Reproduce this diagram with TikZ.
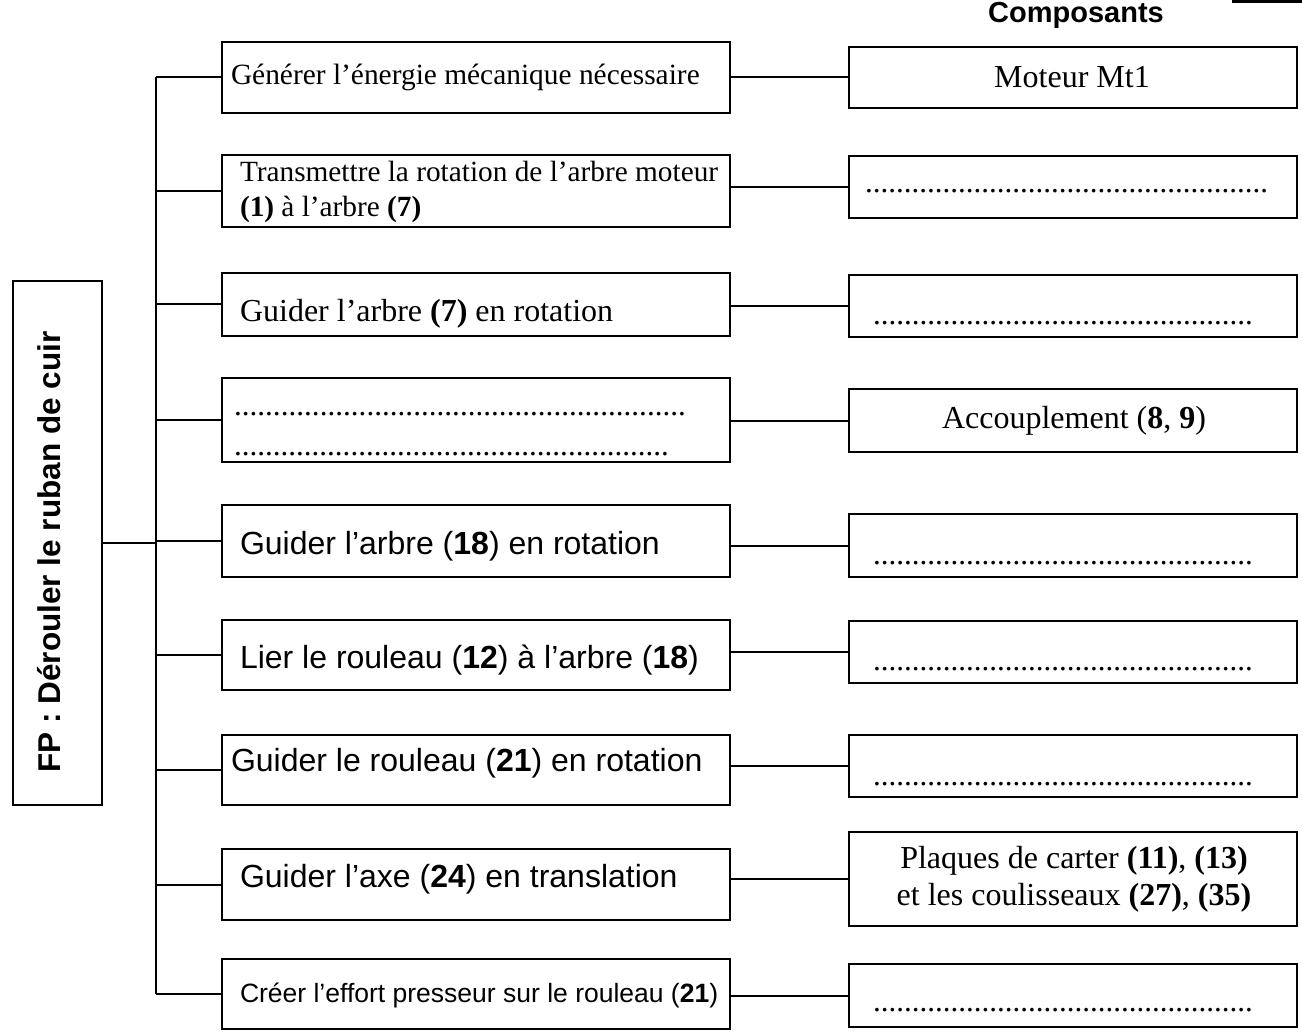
\documentclass[tikz,border=0pt]{standalone}
\usepackage{fontspec}
\setmainfont{Liberation Serif}
\setsansfont{Liberation Sans}
\newcommand\pointill[1]{\hbox to #1{\xleaders\hbox{.}\hfill}}
\begin{document}
\begin{tikzpicture}[x=1pt,y=-1pt,
  box/.style={draw,line width=2.3pt,inner sep=0pt,outer sep=0pt,rectangle},
  mbox/.style={box,minimum width=508pt,minimum height=#1},
  rbox/.style={box,minimum width=448pt,minimum height=#1},
  conn/.style={line width=2pt},
  txt/.style={inner sep=0pt,outer sep=0pt,anchor=base west},
  ctxt/.style={inner sep=0pt,outer sep=0pt,anchor=base},
  serifA/.style={font=\fontsize{29.4}{34}\selectfont},
  serifB/.style={font=\fontsize{29.3}{34}\selectfont},
  serifD/.style={font=\fontsize{31}{35}\selectfont},
  serifC/.style={font=\fontsize{32}{37}\selectfont},
  sansA/.style={font=\sffamily\fontsize{32}{37}\selectfont},
  sansB/.style={font=\sffamily\fontsize{26.5}{31}\selectfont}]
\useasboundingbox (0,0) rectangle (1302,1035);

% top right mark
\draw[line width=3pt] (1232,1.5) -- (1302,1.5);

% title
\node[ctxt,font=\sffamily\bfseries\fontsize{29}{34}\selectfont] (titre) at (1076,23) {Composants};

% FP box
\node[box,minimum width=89pt,minimum height=524pt] (fp) at (57.5,543) {};
\node[inner sep=0pt,outer sep=0pt,anchor=base,rotate=90,font=\sffamily\bfseries\fontsize{31.5}{36}\selectfont] (fptxt) at (60,552) {FP : Dérouler le ruban de cuir};

% middle boxes
\node[mbox=71pt] (m1) at (476,77.5) {};
\node[mbox=72pt] (m2) at (476,191) {};
\node[mbox=63pt] (m3) at (476,304.5) {};
\node[mbox=84pt] (m4) at (476,420) {};
\node[mbox=72pt] (m5) at (476,541) {};
\node[mbox=70pt] (m6) at (476,655) {};
\node[mbox=70pt] (m7) at (476,770) {};
\node[mbox=71pt] (m8) at (476,884.5) {};
\node[mbox=70pt] (m9) at (476,994) {};

% middle texts
\node[txt,serifA] (t1) at (231,85) {Générer l’énergie mécanique nécessaire};
\node[txt,serifB] (t2a) at (240,182) {Transmettre la rotation de l’arbre moteur};
\node[txt,serifB] (t2b) at (240,217) {\textbf{(1)} à l’arbre \textbf{(7)}};
\node[txt,serifC] (t3) at (240,322) {Guider l’arbre \textbf{(7)} en rotation};
\node[txt,serifD] (t4a) at (234,415) {\pointill{452pt}};
\node[txt,serifD] (t4b) at (234,455) {\pointill{435pt}};
\node[txt,sansA] (t5) at (240,554) {Guider l’arbre (\textbf{18}) en rotation};
\node[txt,sansA] (t6) at (240,668) {Lier le rouleau (\textbf{12}) à l’arbre (\textbf{18})};
\node[txt,sansA] (t7) at (231,771) {Guider le rouleau (\textbf{21}) en rotation};
\node[txt,sansA] (t8) at (240,887) {Guider l’axe (\textbf{24}) en translation};
\node[txt,sansB] (t9) at (240,1002) {Créer l’effort presseur sur le rouleau (\textbf{21})};

% right boxes
\node[rbox=61pt] (r1) at (1073,77.5) {};
\node[rbox=62pt] (r2) at (1073,187) {};
\node[rbox=62pt] (r3) at (1073,306) {};
\node[rbox=63pt] (r4) at (1073,420.5) {};
\node[rbox=63pt] (r5) at (1073,545.5) {};
\node[rbox=62pt] (r6) at (1073,652) {};
\node[rbox=62pt] (r7) at (1073,766) {};
\node[rbox=94pt] (r8) at (1073,879) {};
\node[rbox=63pt] (r9) at (1073,995.5) {};

% right texts
\node[ctxt,serifC] (u1) at (1072,88) {Moteur Mt1};
\node[txt,serifD] (u2) at (865,193) {\pointill{403pt}};
\node[txt,serifD] (u3) at (873,324) {\pointill{380pt}};
\node[ctxt,serifC] (u4) at (1074,428) {Accouplement (\textbf{8}, \textbf{9})};
\node[txt,serifD] (u5) at (873,564) {\pointill{380pt}};
\node[txt,serifD] (u6) at (873,670) {\pointill{380pt}};
\node[txt,serifD] (u7) at (873,785) {\pointill{380pt}};
\node[ctxt,serifC] (u8a) at (1074,868) {Plaques de carter \textbf{(11)}, \textbf{(13)}};
\node[ctxt,serifC] (u8b) at (1074,905) {et les coulisseaux \textbf{(27)}, \textbf{(35)}};
\node[txt,serifD] (u9) at (873,1011) {\pointill{380pt}};

% bus
\coordinate (busx) at (156,0);
\draw[conn] (m1.west -| busx) -- (m9.west -| busx);
\draw[conn] (fp.east) -- (fp.east -| busx);
\foreach \m in {m1,m2,m3,m4,m5,m6,m7,m8,m9}
  \draw[conn] (\m.west -| busx) -- (\m.west);

% middle to right connectors
\foreach \i in {1,...,9}
  \draw[conn] (r\i.west -| m\i.east) -- (r\i.west);
\end{tikzpicture}
\end{document}
